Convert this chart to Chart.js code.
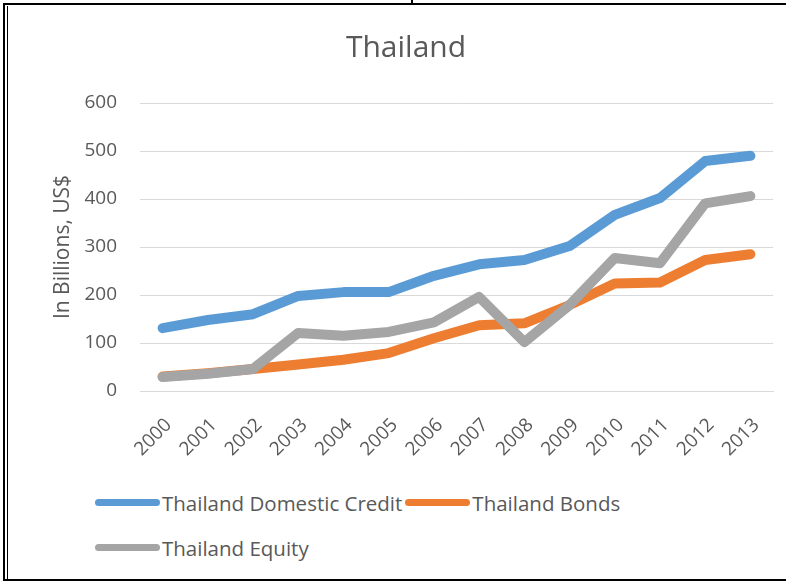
<!DOCTYPE html>
<html>
<head>
<meta charset="utf-8">
<script src="https://cdn.jsdelivr.net/npm/chart.js@4"></script>
<style>
  body { margin: 0; background: #fff; font-family: "Open Sans", sans-serif; }
  .page { position: relative; width: 786px; height: 583px; overflow: hidden; }
  .rule { position: absolute; background: #000; }
  #chartBox { position: absolute; left: 8px; top: 6px; width: 778px; height: 465px; }
  #legend { position: absolute; left: 95px; top: 480px; width: 560px;
            display: flex; flex-wrap: wrap; color: #595959; font-size: 20.5px; }
  .item { display: flex; align-items: center; height: 45px; margin-right: 3px; }
  .swatch { width: 65px; height: 7px; border-radius: 4px; margin-right: 2px; }
</style>
</head>
<body>
<div class="page">
  <div class="rule" style="left:3px;top:3px;width:783px;height:2px"></div>
  <div class="rule" style="left:411px;top:0;width:2px;height:4px"></div>
  <div class="rule" style="left:3px;top:3px;width:2px;height:578px"></div>
  <div class="rule" style="left:7px;top:6px;width:1px;height:574px"></div>
  <div class="rule" style="left:3px;top:579px;width:783px;height:2px"></div>

  <div id="chartBox"><canvas id="thaiChart"></canvas></div>
  <div id="legend"></div>
</div>

<script>
// values, billions of US$
const years = ['2000', '2001', '2002', '2003', '2004', '2005', '2006',
               '2007', '2008', '2009', '2010', '2011', '2012', '2013'];
const domesticCredit = [131, 148, 160, 198, 206, 206, 240, 264, 273, 302, 367, 402, 479, 490];
const bonds = [30, 37, 46, 55, 65, 79, 110, 137, 141, 179, 224, 226, 273, 285];
const equity = [29, 36, 46, 121, 115, 123, 143, 196, 102, 179, 277, 266, 391, 406];
const seriesNames = ['Thailand Domestic Credit', 'Thailand Bonds', 'Thailand Equity'];
const seriesColors = ['#5B9BD5', '#ED7D31', '#A5A5A5'];

const textColor = '#595959';
const gridColor = '#D9D9D9';

function lineSet(i, values, order) {
  return {
    label: seriesNames[i],
    data: values,
    borderColor: seriesColors[i],
    backgroundColor: seriesColors[i],
    borderWidth: 10,
    borderCapStyle: 'round',
    borderJoinStyle: 'round',
    pointRadius: 0,
    tension: 0,
    order: order
  };
}

const chart = new Chart(document.getElementById('thaiChart'), {
  type: 'line',
  data: {
    labels: years,
    datasets: [
      lineSet(0, domesticCredit, 2),
      lineSet(1, bonds, 1),
      lineSet(2, equity, 0)
    ]
  },
  options: {
    responsive: true,
    maintainAspectRatio: false,
    animation: false,
    layout: { padding: { left: 31, right: 13, top: 0, bottom: 0 } },
    plugins: {
      legend: { display: false },
      tooltip: { enabled: false },
      title: {
        display: true,
        text: 'Thailand',
        color: textColor,
        font: { family: 'Open Sans', size: 30, weight: 'normal' },
        padding: { top: 24, bottom: 37 }
      }
    },
    scales: {
      x: {
        offset: true,
        grid: { display: false },
        border: { color: gridColor, width: 1 },
        ticks: {
          color: textColor,
          font: { family: 'Open Sans', size: 19 },
          minRotation: 45,
          maxRotation: 45,
          padding: 15,
          labelOffset: 6
        },
        afterFit: (scale) => { scale.height = 80; }
      },
      y: {
        min: 0,
        max: 600,
        ticks: {
          stepSize: 100,
          color: textColor,
          font: { family: 'Open Sans', size: 19 },
          padding: 23
        },
        grid: { color: gridColor, drawTicks: false },
        border: { display: false },
        title: {
          display: true,
          text: 'In Billions, US$',
          color: textColor,
          font: { family: 'Open Sans', size: 21 },
          padding: { top: 11, bottom: 0 }
        },
        afterFit: (scale) => { scale.width = 101; }
      }
    }
  }
});

// legend below the chart, built from the datasets in their listed order
const legendBox = document.getElementById('legend');
chart.data.datasets.forEach((ds) => {
  const item = document.createElement('div');
  item.className = 'item';
  const swatch = document.createElement('span');
  swatch.className = 'swatch';
  swatch.style.background = ds.borderColor;
  const label = document.createElement('span');
  label.textContent = ds.label;
  item.appendChild(swatch);
  item.appendChild(label);
  legendBox.appendChild(item);
});
</script>
</body>
</html>
